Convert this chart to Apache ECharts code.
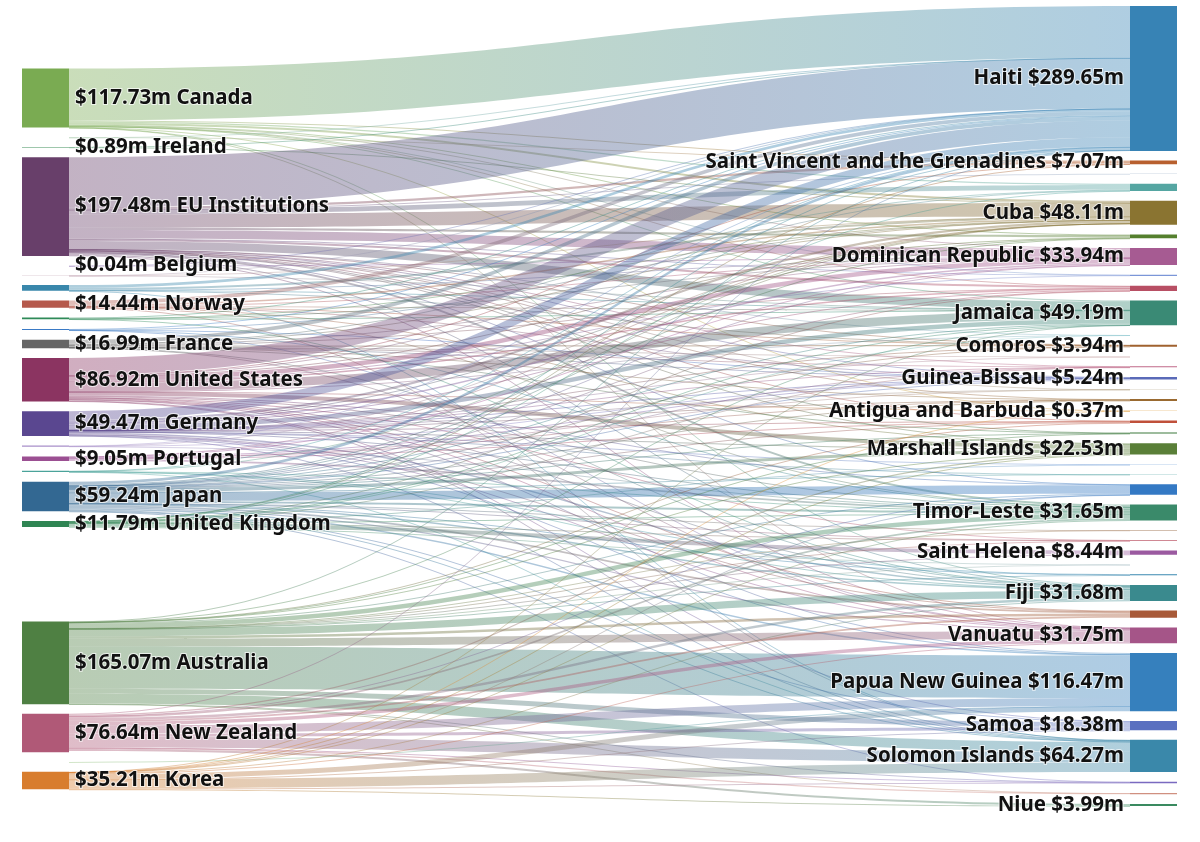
<!DOCTYPE html>
<html><head><meta charset="utf-8">
<script src="https://cdn.jsdelivr.net/npm/echarts@6/dist/echarts.min.js"></script>
<style>html,body{margin:0;padding:0;background:#fff}#chart{width:1200px;height:842px}</style>
</head><body><div id="chart"></div>
<script>
// ---- donors (left column) ----
const donors = ['Canada','Iceland','Ireland','EU Institutions','Belgium','Austria','Switzerland','Norway','Netherlands','Finland','France','United States','Germany','Sweden','Portugal','Denmark','Japan','United Kingdom','Australia','New Zealand','Luxembourg','Korea'];
const donorTotals = [117.73,0.12,0.89,197.48,0.04,0.12,11.4,14.44,3.6,2.27,16.99,86.92,49.47,2.3,9.05,2.55,59.24,11.79,165.07,76.64,0.3,35.21];

// ---- recipients (right column) ----
const recipients = ['Haiti','Saint Vincent and the Grenadines','Saint Kitts and Nevis','Dominica','Cuba','Grenada','Dominican Republic','Bahamas','Saint Lucia','Jamaica','Montserrat','Comoros','Mayotte','Seychelles','Guinea-Bissau','Sint Maarten','Sao Tome and Principe','Antigua and Barbuda','Cabo Verde','Mauritius','Marshall Islands','Belize','Suriname','Kiribati','Timor-Leste','Maldives','Guyana','Saint Helena','Pitcairn Islands','Tuvalu','Fiji','Tonga','Vanuatu','Papua New Guinea','Samoa','Solomon Islands','Nauru','Tokelau','Niue'];
const recipientTotals = [289.65,7.07,0.15,14.6,48.11,7.9,33.94,2.5,10.4,49.19,0.3,3.94,0.15,2.2,5.24,0.15,3.6,0.37,4.8,2.0,22.53,0.6,0.5,21.3,31.65,0.6,1.5,8.44,0.15,2.2,31.68,14.2,31.75,116.47,18.38,64.27,3.2,2.6,3.99];

// ---- flows, one list per donor ($m) ----
const fromCanada = [['Haiti',103.5],['Saint Vincent and the Grenadines',2.0],['Dominica',2.5],['Cuba',4.0],['Grenada',1.2],['Dominican Republic',1.2],['Bahamas',0.2],['Saint Lucia',0.5],['Jamaica',2.0],['Antigua and Barbuda',0.1],['Fiji',0.28],['Vanuatu',0.25]];
const fromIceland = [['Haiti',0.1],['Saint Vincent and the Grenadines',0.02]];
const fromIreland = [['Haiti',0.68],['Cuba',0.21]];
const fromEU = [['Haiti',100.4],['Saint Vincent and the Grenadines',4.3],['Saint Kitts and Nevis',0.15],['Dominica',9.5],['Cuba',26.81],['Grenada',4.3],['Dominican Republic',17.28],['Bahamas',0.9],['Saint Lucia',4.0],['Jamaica',16.0],['Montserrat',0.1],['Comoros',0.51],['Seychelles',0.6],['Guinea-Bissau',1.1],['Sint Maarten',0.03],['Sao Tome and Principe',0.8],['Cabo Verde',0.9],['Mauritius',0.3],['Marshall Islands',1.5],['Kiribati',0.5],['Timor-Leste',4.0],['Fiji',2.0],['Vanuatu',1.5]];
const fromBelgium = [['Haiti',0.025],['Dominican Republic',0.015]];
const fromAustria = [['Haiti',0.06],['Cuba',0.04],['Jamaica',0.02]];
const fromSwitzerland = [['Haiti',5.5],['Cuba',4],['Dominican Republic',0.5],['Jamaica',1.0],['Comoros',0.1],['Solomon Islands',0.3]];
const fromNorway = [['Haiti',7.53],['Cuba',3],['Dominican Republic',1],['Jamaica',0.3],['Comoros',0.14],['Guinea-Bissau',0.24],['Marshall Islands',1.33],['Timor-Leste',0.5],['Solomon Islands',0.4]];
const fromNetherlands = [['Haiti',1.72],['Cuba',0.6],['Dominican Republic',0.5],['Jamaica',0.4],['Fiji',0.38]];
const fromFinland = [['Haiti',1.35],['Cuba',0.3],['Guinea-Bissau',0.2],['Timor-Leste',0.3],['Vanuatu',0.12]];
const fromFrance = [['Haiti',7.7],['Dominica',1.0],['Cuba',1.5],['Dominican Republic',0.8],['Saint Lucia',0.6],['Comoros',2.09],['Mayotte',0.1],['Seychelles',0.6],['Guinea-Bissau',0.2],['Sao Tome and Principe',0.4],['Mauritius',0.6],['Fiji',0.4],['Vanuatu',1.0]];
const fromUS = [['Haiti',33.95],['Saint Vincent and the Grenadines',0.5],['Dominica',1.0],['Grenada',1.2],['Dominican Republic',9.0],['Bahamas',1.4],['Saint Lucia',3.0],['Jamaica',16.87],['Montserrat',0.15],['Antigua and Barbuda',0.17],['Marshall Islands',8.0],['Kiribati',1.5],['Timor-Leste',2.0],['Guyana',0.3],['Fiji',1.5],['Tonga',1.5],['Vanuatu',1.0],['Papua New Guinea',2.0],['Samoa',0.88],['Solomon Islands',1.0]];
const fromGermany = [['Haiti',17.98],['Cuba',4.3],['Grenada',0.8],['Dominican Republic',3.0],['Saint Lucia',1.5],['Jamaica',9.2],['Comoros',0.4],['Mayotte',0.05],['Seychelles',0.1],['Guinea-Bissau',0.5],['Sint Maarten',0.07],['Sao Tome and Principe',0.2],['Cabo Verde',0.5],['Marshall Islands',1.7],['Belize',0.3],['Suriname',0.1],['Timor-Leste',2.0],['Fiji',3.0],['Tonga',0.8],['Vanuatu',1.5],['Papua New Guinea',0.47],['Solomon Islands',1.0]];
const fromSweden = [['Haiti',0.6],['Cuba',0.3],['Guinea-Bissau',0.3],['Timor-Leste',1.1]];
const fromPortugal = [['Cuba',0.16],['Dominican Republic',0.34],['Guinea-Bissau',2.2],['Sint Maarten',0.05],['Sao Tome and Principe',1.2],['Cabo Verde',1.6],['Timor-Leste',3.5]];
const fromDenmark = [['Haiti',0.7],['Cuba',0.2],['Timor-Leste',0.35],['Tuvalu',0.4],['Fiji',0.4],['Solomon Islands',0.5]];
const fromJapan = [['Haiti',5.72],['Cuba',1.5],['Grenada',0.4],['Dominican Republic',0.3],['Saint Lucia',0.3],['Jamaica',2.0],['Comoros',0.7],['Seychelles',0.6],['Guinea-Bissau',0.5],['Sao Tome and Principe',1.0],['Cabo Verde',1.5],['Mauritius',0.7],['Marshall Islands',6.0],['Suriname',0.4],['Kiribati',17.0],['Timor-Leste',4.0],['Maldives',0.5],['Guyana',0.2],['Tuvalu',1.0],['Fiji',3.0],['Tonga',3.5],['Vanuatu',2.5],['Papua New Guinea',3.0],['Samoa',1.5],['Solomon Islands',1.12],['Nauru',0.3]];
const fromUK = [['Haiti',0.04],['Saint Vincent and the Grenadines',0.25],['Dominica',0.6],['Saint Lucia',0.5],['Jamaica',1.0],['Montserrat',0.05],['Seychelles',0.3],['Belize',0.3],['Timor-Leste',0.5],['Guyana',0.6],['Saint Helena',7.5],['Pitcairn Islands',0.13]];
const fromAustralia = [['Haiti',0.38],['Jamaica',0.1],['Cabo Verde',0.3],['Mauritius',0.4],['Marshall Islands',1.5],['Kiribati',1.5],['Timor-Leste',8.9],['Maldives',0.1],['Guyana',0.4],['Saint Helena',0.94],['Pitcairn Islands',0.02],['Tuvalu',0.8],['Fiji',14.22],['Tonga',4.9],['Vanuatu',15.11],['Papua New Guinea',84.7],['Samoa',9.98],['Solomon Islands',19.72],['Nauru',0.9],['Tokelau',0.2]];
const fromNZ = [['Haiti',1.715],['Marshall Islands',2.2],['Kiribati',0.5],['Timor-Leste',3.5],['Fiji',5.0],['Tonga',3.5],['Vanuatu',7.27],['Papua New Guinea',16.0],['Samoa',6.0],['Solomon Islands',21.73],['Nauru',0.5],['Tokelau',2.4],['Niue',3.8]];
const fromLuxembourg = [['Papua New Guinea',0.3]];
const fromKorea = [['Jamaica',0.3],['Antigua and Barbuda',0.1],['Marshall Islands',0.3],['Kiribati',0.3],['Timor-Leste',1.0],['Fiji',1.5],['Vanuatu',1.5],['Papua New Guinea',10.0],['Samoa',0.02],['Solomon Islands',18.5],['Nauru',1.5],['Niue',0.19]];
const flowLists = [fromCanada,fromIceland,fromIreland,fromEU,fromBelgium,fromAustria,fromSwitzerland,fromNorway,fromNetherlands,fromFinland,fromFrance,fromUS,fromGermany,fromSweden,fromPortugal,fromDenmark,fromJapan,fromUK,fromAustralia,fromNZ,fromLuxembourg,fromKorea];

// ---- styling (not data) ----
const colorOf = {
  'Canada':'#7aab52','Iceland':'#9cc3a0','Ireland':'#3f8f5a','EU Institutions':'#683f6a','Belgium':'#8a6bb0','Austria':'#c0a0b0','Switzerland':'#3987ab',
  'Norway':'#b5594c','Netherlands':'#2e8a58','Finland':'#3a7ac6','France':'#666666','United States':'#8b3461',
  'Germany':'#5a4790','Sweden':'#a88fca','Portugal':'#9b4f92','Denmark':'#4aa39a','Japan':'#336892',
  'United Kingdom':'#2f8553','Australia':'#4f8043','New Zealand':'#b05977','Luxembourg':'#8fbf78','Korea':'#d87d2e',
  'Haiti':'#3783b5','Saint Vincent and the Grenadines':'#b8602f','Saint Kitts and Nevis':'#9ab0c8','Dominica':'#55a6a2','Cuba':'#8a7431','Grenada':'#55802e',
  'Dominican Republic':'#a65b92','Bahamas':'#7b96d8','Saint Lucia':'#b84f64','Jamaica':'#3a8a75','Montserrat':'#8cc7d0',
  'Comoros':'#a0622f','Mayotte':'#c8a0a0','Seychelles':'#c06888','Guinea-Bissau':'#5a6ab8','Sint Maarten':'#b0a080','Sao Tome and Principe':'#9a6a30','Antigua and Barbuda':'#e0a040',
  'Cabo Verde':'#c0503a','Mauritius':'#3d7a3d','Marshall Islands':'#5a7f38','Belize':'#6a9ad8','Suriname':'#4aa0a0',
  'Kiribati':'#3479c4','Timor-Leste':'#3a8a6a','Maldives':'#a88060','Guyana':'#c06070','Saint Helena':'#9b5aa0','Pitcairn Islands':'#a0b8c0',
  'Tuvalu':'#3a88b0','Fiji':'#3a8a8e','Tonga':'#a85a38','Vanuatu':'#a55588','Papua New Guinea':'#3680bd',
  'Samoa':'#5a70c0','Solomon Islands':'#3a88aa','Nauru':'#7a6ac0','Tokelau':'#d09080','Niue':'#3a8a60'
};
const hiddenLabels = new Set(['Iceland','Austria','Switzerland','Netherlands','Finland','Sweden','Denmark','Luxembourg',
  'Saint Kitts and Nevis','Dominica','Grenada','Bahamas','Saint Lucia','Montserrat','Mayotte','Seychelles','Sint Maarten','Sao Tome and Principe','Cabo Verde','Mauritius',
  'Belize','Suriname','Kiribati','Maldives','Guyana','Pitcairn Islands','Tuvalu','Tonga','Nauru','Tokelau']);

const money = v => '$' + v.toFixed(2) + 'm';
const nodes = [];
donors.forEach((n, i) => nodes.push({
  name: n, value: donorTotals[i], depth: 0,
  itemStyle: { color: colorOf[n] },
  label: { show: !hiddenLabels.has(n), position: 'right', formatter: money(donorTotals[i]) + ' ' + n }
}));
recipients.forEach((n, i) => nodes.push({
  name: n, value: recipientTotals[i], depth: 1,
  itemStyle: { color: colorOf[n] },
  label: { show: !hiddenLabels.has(n), position: 'left', formatter: n + ' ' + money(recipientTotals[i]) }
}));
const links = [];
donors.forEach((d, i) => flowLists[i].forEach(([t, v]) => links.push({ source: d, target: t, value: v })));

const chart = echarts.init(document.getElementById('chart'));
chart.setOption({
  backgroundColor: '#ffffff',
  animation: false,
  series: [{
    type: 'sankey',
    left: 22, right: 23, top: 6, bottom: 36,
    nodeWidth: 47, nodeGap: 9.7,
    nodeAlign: 'justify',
    layoutIterations: 32,
    draggable: false,
    data: nodes,
    links: links,
    label: {
      fontFamily: 'Noto Sans', fontWeight: 'bold', fontSize: 20.5, color: '#111',
      textBorderColor: 'rgba(255,255,255,0.7)', textBorderWidth: 2, distance: 6
    },
    lineStyle: { color: 'gradient', opacity: 0.4, curveness: 0.5 },
    emphasis: { disabled: true }
  }]
});
</script></body></html>
